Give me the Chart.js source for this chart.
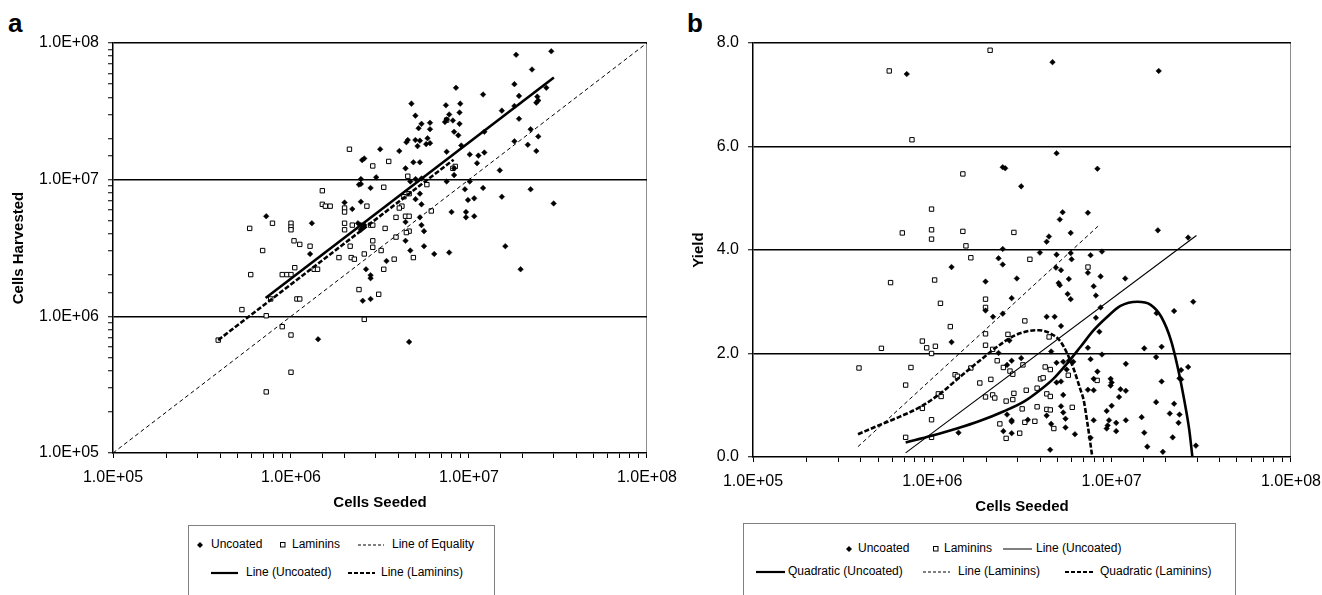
<!DOCTYPE html>
<html>
<head>
<meta charset="utf-8">
<title>Cells Seeded vs Harvested / Yield</title>
<script src="https://cdn.jsdelivr.net/npm/chart.js@4.4.0/dist/chart.umd.min.js"></script>
<style>
    html, body { margin: 0; padding: 0; background: #fff; }
    body { width: 1322px; height: 595px; position: relative; overflow: hidden;
           font-family: "Liberation Sans", Arial, sans-serif; color: #000; }
    .panel { position: absolute; top: 0; height: 520px; }
    .letter { position: absolute; top: 10px; font-size: 26px; font-weight: bold; line-height: 26px; }
    .legend-box { position: absolute; height: 100px; border: 1px solid #808080; box-sizing: border-box; }
    .lg-text { position: absolute; font-size: 12px; line-height: 14px; white-space: nowrap; }
    .lg-mark { position: absolute; }
    .lg-mark svg { display: block; }
</style>
</head>
<body>

<div class="letter" style="left:8px">a</div>
<div class="letter" style="left:687px">b</div>

<div class="panel" style="left:0; width:687px"><canvas id="chart-a"></canvas></div>
<div class="panel" style="left:680px; width:651px"><canvas id="chart-b"></canvas></div>

<div class="legend-box" style="left:188px; top:525px; width:307px"></div>
<div class="legend-box" style="left:743px; top:523px; width:493px"></div>
<div id="legend-items"></div>

<script>
// ---------------------------------------------------------------
// Data
// ---------------------------------------------------------------

// log axis decades + their labels
const decades = [1e5, 1e6, 1e7, 1e8];
const decadeLabels = ["1.0E+05", "1.0E+06", "1.0E+07", "1.0E+08"];
const yieldTicks = [0, 2, 4, 6, 8];
const yieldLabels = ["0.0", "2.0", "4.0", "6.0", "8.0"];

// Panel a: [cells seeded, cells harvested]
const aUncoated = [
    [2.26e7,6.4e7],[1.80e7,5.0e7],[8.45e6,4.7e7],[1.20e7,4.2e7],[1.91e7,4.1e7],[2.72e7,4.7e7],
    [2.42e7,4.05e7],[2.45e7,3.8e7],[2.39e7,3.66e7],[4.75e6,3.6e7],[7.42e6,3.5e7],[8.93e6,3.6e7],
    [1.53e7,3.2e7],[1.80e7,3.46e7],[5.0e6,2.94e7],[7.74e6,3.0e7],[8.85e6,3.1e7],[5.41e6,2.56e7],
    [6.04e6,2.61e7],[7.33e6,2.64e7],[8.12e6,2.71e7],[8.85e6,2.56e7],[7.49e6,2.76e7],[5.21e6,2.38e7],
    [6.04e6,2.34e7],[8.25e6,2.24e7],[8.71e6,2.11e7],[1.91e7,2.79e7],[1.22e7,2.24e7],[4.45e6,1.88e7],
    [4.53e6,1.95e7],[5.0e6,1.95e7],[5.3e6,1.93e7],[5.85e6,2.01e7],[6.04e6,1.85e7],[5.14e6,1.76e7],
    [5.75e6,1.82e7],[2.22e7,2.34e7],[1.80e7,1.91e7],[2.45e7,2.07e7],[2.14e7,1.80e7],[2.39e7,1.62e7],
    [4.06e6,1.62e7],[3.17e6,1.67e7],[2.51e6,1.39e7],[2.58e6,1.43e7],[4.87e6,1.34e7],[5.3e6,1.34e7],
    [4.40e6,1.21e7],[7.49e6,1.60e7],[9.05e6,1.78e7],[1.01e7,1.53e7],[1.13e7,1.50e7],[1.22e7,1.58e7],
    [8.25e6,1.21e7],[8.25e6,1.08e7],[1.11e7,1.32e7],[3.01e6,1.04e7],[2.47e6,1.01e7],[2.41e6,9.2e6],
    [2.47e6,9.3e6],[2.80e6,8.7e6],[4.68e6,9.7e6],[5.01e6,1.01e7],[5.41e6,1.02e7],[7.49e6,9.7e6],
    [1.01e7,9.7e6],[1.20e7,8.7e6],[1.49e7,1.17e7],[9.49e6,8.5e6],[9.87e6,7.1e6],[1.07e7,7.3e6],
    [5.3e6,7.9e6],[5.01e6,7.2e6],[1.53e7,7.5e6],[2.22e7,8.5e6],[2.99e7,6.7e6],[2.0e6,6.8e6],
    [2.47e6,6.9e6],[2.21e6,6.1e6],[1.31e6,4.8e6],[7.26e5,5.4e6],[5.41e6,6.6e6],[7.98e6,5.8e6],
    [9.62e6,5.8e6],[9.62e6,5.3e6],[1.07e7,5.4e6],[4.40e6,4.9e6],[5.3e6,5.3e6],[5.41e6,4.65e6],
    [5.59e6,4.2e6],[2.38e6,4.8e6],[2.47e6,4.65e6],[2.51e6,4.4e6],[2.58e6,4.65e6],[2.47e6,4.3e6],
    [4.40e6,3.57e6],[5.59e6,3.26e6],[4.68e6,3.03e6],[6.38e6,2.86e6],[7.74e6,2.93e6],[1.60e7,3.26e6],
    [1.28e6,2.86e6],[3.44e6,2.54e6],[2.64e6,2.21e6],[2.80e6,2.0e6],[2.80e6,1.9e6],[1.95e7,2.21e6],
    [2.53e6,1.30e6],[2.80e6,1.34e6],[1.42e6,6.8e5],[4.61e6,6.5e5],[1.84e7,8.2e7],[2.90e7,8.7e7]
];
const aLaminins = [
    [2.13e6,1.67e7],[7.49e6,2.73e7],[3.54e6,1.36e7],[2.88e6,1.26e7],[4.53e6,1.06e7],[3.32e6,8.8e6],
    [5.80e6,9.2e6],[8.37e6,1.25e7],[8.12e6,1.21e7],[4.61e6,7.9e6],[4.31e6,7.5e6],[1.50e6,8.3e6],
    [1.50e6,6.6e6],[1.56e6,6.4e6],[1.66e6,6.4e6],[2.0e6,6.2e6],[2.0e6,5.8e6],[2.67e6,6.4e6],
    [4.20e6,6.4e6],[4.06e6,6.2e6],[6.14e6,5.9e6],[3.89e6,5.3e6],[4.40e6,5.4e6],[4.61e6,5.4e6],
    [7.87e5,4.8e6],[5.86e5,4.4e6],[1.0e6,4.8e6],[1.0e6,4.5e6],[1.0e6,4.3e6],[2.0e6,4.8e6],
    [2.0e6,4.3e6],[2.21e6,4.65e6],[2.80e6,4.65e6],[2.88e6,4.65e6],[3.38e6,4.4e6],[4.61e6,4.2e6],
    [4.45e6,4.1e6],[3.89e6,3.8e6],[1.04e6,3.57e6],[1.12e6,3.36e6],[1.28e6,3.26e6],[2.88e6,3.57e6],
    [2.15e6,3.26e6],[2.88e6,3.2e6],[6.93e5,3.03e6],[3.21e6,3.03e6],[2.58e6,2.86e6],[1.86e6,2.69e6],
    [2.18e6,2.69e6],[2.27e6,2.62e6],[3.80e6,2.62e6],[4.87e6,2.69e6],[1.05e6,2.27e6],[3.32e6,2.21e6],
    [1.35e6,2.21e6],[1.41e6,2.21e6],[8.93e5,2.02e6],[9.48e5,2.02e6],[1.0e6,2.02e6],[5.94e5,2.02e6],
    [2.41e6,1.57e6],[3.11e6,1.45e6],[1.08e6,1.34e6],[1.12e6,1.34e6],[7.69e5,1.34e6],[5.3e5,1.12e6],
    [7.26e5,1.01e6],[2.58e6,9.5e5],[8.93e5,8.4e5],[1.0e6,7.3e5],[3.9e5,6.7e5],[1.0e6,3.9e5],
    [7.26e5,2.8e5]
];
const aEquality = [[1e5, 1e5], [1e8, 1e8]];
const aLineUncoated = [[7.2e5, 1.36e6], [3.0e7, 5.6e7]];
const aLineLaminins = [[3.9e5, 6.7e5], [8.2e6, 1.4e7]];

// Panel b: [cells seeded, yield]
const bUncoated = [
    [3.13e6,5.23],[5.33e6,4.73],[7.37e6,4.72],[5.14e6,4.59],[5.91e6,4.33],[4.47e6,4.26],[4.34e6,4.16],
    [2.47e6,4.02],[3.98e6,3.95],[4.93e6,3.91],[5.91e6,3.94],[8.83e6,3.97],[2.34e6,3.84],[5.98e6,3.82],
    [7.63e6,3.90],[2.47e6,3.72],[1.28e6,3.67],[4.89e6,3.66],[5.22e6,3.61],[7.37e6,3.56],[8.68e6,3.49],
    [5.77e6,3.44],[2.96e6,3.45],[1.98e6,3.39],[5.06e6,3.36],[5.14e6,3.32],[1.19e7,3.45],[7.94e6,3.30],
    [5.68e6,3.15],[5.91e6,3.05],[8.17e6,3.12],[2.77e6,3.07],[2.47e6,2.77],[2.18e6,2.71],[4.34e6,2.71],
    [4.81e6,2.71],[8.68e6,2.89],[8.17e6,2.69],[5.22e6,2.53],[2.23e7,2.82],[2.85e7,3.00],[1.78e7,2.78],
    [1.81e7,4.38],[2.67e7,4.24],[8.54e6,2.42],[1.28e6,2.22],[2.69e6,2.25],[4.60e6,2.04],[2.34e6,2.01],
    [8.83e6,1.98],[7.37e6,2.11],[1.52e7,2.10],[1.90e7,2.13],[3.13e6,1.91],[2.77e6,1.86],[2.61e6,1.78],
    [4.93e6,1.82],[5.37e6,1.84],[5.77e6,1.86],[6.11e6,1.84],[5.61e6,1.69],[7.63e6,1.89],[1.20e7,1.80],
    [1.77e7,1.93],[2.67e7,1.74],[8.33e6,1.65],[7.94e6,1.51],[9.87e6,1.51],[1.00e7,1.44],[9.87e6,1.38],
    [7.94e6,1.29],[7.37e6,1.30],[1.12e7,1.31],[1.20e7,1.28],[1.10e7,1.16],[4.93e6,1.44],[5.22e6,1.46],
    [5.37e6,1.20],[1.90e7,1.46],[1.77e7,1.06],[2.23e7,1.03],[2.39e7,0.82],[2.44e7,1.68],[2.39e7,1.52],
    [2.44e7,1.50],[2.61e6,0.82],[2.77e6,0.71],[2.77e6,0.68],[3.41e6,0.72],[4.34e6,0.80],[4.60e6,0.64],
    [5.22e6,0.98],[5.37e6,0.86],[5.53e6,0.74],[5.53e6,0.57],[6.24e6,0.44],[7.94e6,0.71],[9.38e6,0.89],
    [9.67e6,0.71],[9.50e6,0.61],[9.38e6,0.55],[1.06e7,0.66],[1.06e7,0.50],[1.20e7,0.71],[1.00e7,0.99],
    [1.47e7,0.77],[1.52e7,0.47],[2.11e7,0.84],[2.36e7,0.66],[2.19e7,0.38],[1.58e7,0.20],[1.93e7,0.10],
    [2.95e7,0.22],[1.40e6,0.47],[2.49e6,0.50],[2.77e6,0.46],[7.63e6,0.37],[4.54e6,0.14],[1.98e6,2.83],
    [4.68e6,7.63],[1.83e7,7.46],[4.93e6,5.87],[8.33e6,5.57],[2.47e6,5.60],[2.55e6,5.58],[7.2e5,7.40]
];
const bLaminins = [
    [1.48e6,5.47],[9.9e5,4.79],[6.8e5,4.33],[9.9e5,4.39],[9.9e5,4.21],[1.48e6,4.36],[2.85e6,4.34],
    [1.54e6,4.08],[1.64e6,3.85],[3.50e6,3.82],[7.38e6,3.67],[5.85e5,3.37],[1.03e6,3.42],[1.98e6,3.05],
    [1.98e6,2.89],[1.11e6,2.97],[3.28e6,2.63],[1.26e6,2.52],[1.98e6,2.38],[2.64e6,2.37],[4.48e6,2.32],
    [8.8e5,2.24],[9.3e5,2.11],[1.04e6,2.14],[9.9e5,2.00],[5.2e5,2.10],[1.98e6,2.16],[2.17e6,2.08],
    [2.30e6,1.86],[7.6e5,1.73],[1.64e6,1.72],[2.49e6,1.73],[2.71e6,1.66],[2.81e6,1.60],[3.20e6,1.78],
    [4.26e6,1.74],[4.55e6,1.69],[1.34e6,1.59],[1.38e6,1.56],[5.73e6,1.58],[7.1e5,1.39],[1.84e6,1.43],
    [2.12e6,1.50],[4.01e6,1.51],[4.15e6,1.53],[8.3e6,1.48],[3.84e6,1.33],[3.34e6,1.29],[1.08e6,1.22],
    [1.12e6,1.17],[1.98e6,1.16],[2.17e6,1.20],[2.23e6,1.14],[2.85e6,1.23],[2.81e6,1.11],[2.58e6,1.08],
    [4.35e6,1.22],[4.55e6,1.17],[8.8e5,0.94],[3.17e6,0.93],[3.84e6,0.97],[4.35e6,0.92],[4.55e6,0.91],
    [6.03e6,0.96],[9.9e5,0.72],[2.38e6,0.64],[3.28e6,0.67],[3.73e6,0.69],[4.76e6,0.55],[3.07e6,0.46],
    [2.58e6,0.36],[7.1e5,0.38],[9.9e5,0.38],[3.9e5,1.72],[5.75e5,7.46],[7.7e5,6.13],[2.1e6,7.86]
];
const bLineUncoated = [[7.1e5, 0.08], [2.97e7, 4.28]];
const bLineLaminins = [[3.85e5, 0.20], [8.4e6, 4.46]];
const bQuadUncoated = [
    [7.1e5,0.28],[9.9e5,0.41],[1.37e6,0.55],[1.85e6,0.70],[2.49e6,0.88],[3.24e6,1.07],[4.01e6,1.30],
    [4.76e6,1.52],[5.65e6,1.81],[6.71e6,2.13],[7.94e6,2.45],[9.46e6,2.71],[1.12e7,2.92],[1.39e7,3.00],
    [1.65e7,2.94],[1.89e7,2.71],[2.14e7,2.26],[2.33e7,1.75],[2.54e7,1.10],[2.71e7,0.52],[2.82e7,0.0]
];
const bQuadLaminins = [
    [3.85e5,0.44],[5.1e5,0.62],[6.6e5,0.78],[8.6e5,0.97],[1.11e6,1.23],[1.43e6,1.55],[1.85e6,1.87],
    [2.30e6,2.13],[2.85e6,2.34],[3.38e6,2.43],[3.93e6,2.45],[4.55e6,2.39],[5.19e6,2.23],[5.65e6,2.00],
    [6.17e6,1.68],[6.7e6,1.30],[6.98e6,1.10],[7.35e6,0.62],[7.8e6,0.0]
];

// ---------------------------------------------------------------
// Helpers
// ---------------------------------------------------------------
Chart.defaults.font.family = '"Liberation Sans", Arial, sans-serif';
Chart.defaults.color = "#000";

const CLEAR = "rgba(0,0,0,0)";

function xy(pairs) {
    return pairs.map((p) => ({ x: p[0], y: p[1] }));
}

function isDecade(v) {
    return decades.some((d) => Math.abs(v / d - 1) < 1e-6);
}

function decadeLabel(v) {
    const i = decades.findIndex((d) => Math.abs(v / d - 1) < 1e-6);
    return i >= 0 ? decadeLabels[i] : "";
}

function diamonds(data) {
    return {
        data: xy(data), showLine: false, pointStyle: "rectRot", pointRadius: 2.8,
        pointBackgroundColor: "#000", pointBorderColor: "#000", pointBorderWidth: 0.5
    };
}

function squares(data) {
    return {
        data: xy(data), showLine: false, pointStyle: "rect", pointRadius: 3.1,
        pointBackgroundColor: "#fff", pointBorderColor: "#000", pointBorderWidth: 1
    };
}

function trend(data, width, dash, curved) {
    return {
        data: xy(data), showLine: true, pointRadius: 0, borderColor: "#000",
        borderWidth: width, borderDash: dash || [],
        tension: curved ? 0.4 : 0, cubicInterpolationMode: curved ? "monotone" : "default"
    };
}

function seededAxis(plotBottomGap, titlePad) {
    return {
        type: "logarithmic", min: 1e5, max: 1e8,
        afterFit: (s) => { s.height = plotBottomGap; },
        border: { display: true, color: "#000", width: 1.5 },
        grid: {
            drawTicks: true, tickLength: 5, tickColor: "#000", tickWidth: 1, lineWidth: 1,
            color: (c) => (c.tick && c.tick.value === 1e8 ? "#8c8c8c" : CLEAR)
        },
        ticks: {
            autoSkip: false, maxRotation: 0, padding: 10, font: { size: 16 },
            callback: (v) => decadeLabel(v)
        },
        title: {
            display: true, text: "Cells Seeded", font: { size: 15, weight: "bold" },
            padding: { top: 0, bottom: titlePad }
        }
    };
}

function baseOptions(scales, padRight) {
    return {
        responsive: true, maintainAspectRatio: false, animation: false,
        layout: { padding: { top: 43, right: padRight, left: 0, bottom: 0 } },
        plugins: { legend: { display: false }, tooltip: { enabled: false } },
        scales: scales
    };
}

// ---------------------------------------------------------------
// Panel a
// ---------------------------------------------------------------
new Chart(document.getElementById("chart-a"), {
    type: "scatter",
    data: {
        datasets: [
            trend(aLineUncoated, 2.6),
            trend(aLineLaminins, 2.6, [5, 2]),
            trend(aEquality, 1, [4, 3]),
            diamonds(aUncoated),
            squares(aLaminins)
        ]
    },
    options: baseOptions({
        x: seededAxis(67, 8),
        y: {
            type: "logarithmic", min: 1e5, max: 1e8,
            afterFit: (s) => { s.width = 113; },
            border: { display: true, color: "#000", width: 1.5 },
            grid: {
                drawTicks: true, tickLength: 5, tickColor: "#000", tickWidth: 1, lineWidth: 1.5,
                color: (c) => (c.tick && isDecade(c.tick.value) && c.tick.value !== 1e5 ? "#000" : CLEAR)
            },
            ticks: { autoSkip: false, padding: 9, font: { size: 16 }, callback: (v) => decadeLabel(v) },
            title: {
                display: true, text: "Cells Harvested", font: { size: 15, weight: "bold" },
                padding: { top: 10, bottom: 0 }
            }
        }
    }, 35)
});

// ---------------------------------------------------------------
// Panel b
// ---------------------------------------------------------------
new Chart(document.getElementById("chart-b"), {
    type: "scatter",
    data: {
        datasets: [
            trend(bQuadUncoated, 2.6, null, true),
            trend(bQuadLaminins, 2.6, [5, 2], true),
            trend(bLineUncoated, 1.1),
            trend(bLineLaminins, 1, [4, 3]),
            diamonds(bUncoated),
            squares(bLaminins)
        ]
    },
    options: baseOptions({
        x: seededAxis(63, 4),
        y: {
            type: "linear", min: 0, max: 8,
            afterFit: (s) => { s.width = 73; },
            afterBuildTicks: (s) => { s.ticks = yieldTicks.map((v) => ({ value: v })); },
            border: { display: true, color: "#000", width: 1.5 },
            grid: {
                drawTicks: true, tickLength: 5, tickColor: "#000", tickWidth: 1, lineWidth: 1.5,
                color: (c) => (c.tick && c.tick.value > 0 ? "#000" : CLEAR)
            },
            ticks: {
                padding: 9, font: { size: 16 },
                callback: (v) => yieldLabels[yieldTicks.indexOf(v)]
            },
            title: {
                display: true, text: "Yield", font: { size: 15, weight: "bold" },
                padding: { top: 10, bottom: 0 }
            }
        }
    }, 33)
});

// ---------------------------------------------------------------
// Legends (boxed, two rows each)
// ---------------------------------------------------------------
const legendA = [
    { mark: "diamond", cx: 200, cy: 545, text: "Uncoated", tx: 211 },
    { mark: "square", cx: 283, cy: 545, text: "Laminins", tx: 292 },
    { mark: "line", x1: 358, x2: 384, cy: 545, w: 1, dash: "3,2", text: "Line of Equality", tx: 392 },
    { mark: "line", x1: 211, x2: 238, cy: 573, w: 2.2, dash: "", text: "Line (Uncoated)", tx: 246 },
    { mark: "line", x1: 348, x2: 375, cy: 573, w: 2.2, dash: "4,2", text: "Line (Laminins)", tx: 381 }
];
const legendB = [
    { mark: "diamond", cx: 849, cy: 549, text: "Uncoated", tx: 858 },
    { mark: "square", cx: 936, cy: 549, text: "Laminins", tx: 944 },
    { mark: "line", x1: 1003, x2: 1032, cy: 549, w: 1, dash: "", text: "Line (Uncoated)", tx: 1036 },
    { mark: "line", x1: 756, x2: 785, cy: 572, w: 2.2, dash: "", text: "Quadratic (Uncoated)", tx: 788 },
    { mark: "line", x1: 923, x2: 950, cy: 572, w: 1, dash: "3,2", text: "Line (Laminins)", tx: 958 },
    { mark: "line", x1: 1065, x2: 1093, cy: 572, w: 2.2, dash: "4,2", text: "Quadratic (Laminins)", tx: 1100 }
];

function markSvg(it) {
    if (it.mark === "diamond") {
        return { left: it.cx - 4, top: it.cy - 4, w: 8, h: 8,
            svg: '<polygon points="4,1 7,4 4,7 1,4" fill="#000"/>' };
    }
    if (it.mark === "square") {
        return { left: it.cx - 4, top: it.cy - 4, w: 8, h: 8,
            svg: '<rect x="1.5" y="1.5" width="4.5" height="4.5" fill="#fff" stroke="#000" stroke-width="1"/>' };
    }
    const len = it.x2 - it.x1;
    return { left: it.x1, top: it.cy - 3, w: len, h: 6,
        svg: '<line x1="0" y1="3" x2="' + len + '" y2="3" stroke="#000" stroke-width="' + it.w +
             '"' + (it.dash ? ' stroke-dasharray="' + it.dash + '"' : "") + "/>" };
}

const $legend = document.getElementById("legend-items");
legendA.concat(legendB).forEach((it) => {
    const m = markSvg(it);
    const mk = document.createElement("div");
    mk.className = "lg-mark";
    mk.style.cssText = "left:" + m.left + "px;top:" + m.top + "px;width:" + m.w + "px;height:" + m.h + "px";
    mk.innerHTML = '<svg width="' + m.w + '" height="' + m.h + '">' + m.svg + "</svg>";
    $legend.appendChild(mk);

    const tx = document.createElement("div");
    tx.className = "lg-text";
    tx.style.cssText = "left:" + it.tx + "px;top:" + (it.cy - 8) + "px";
    tx.textContent = it.text;
    $legend.appendChild(tx);
});
</script>
</body>
</html>
